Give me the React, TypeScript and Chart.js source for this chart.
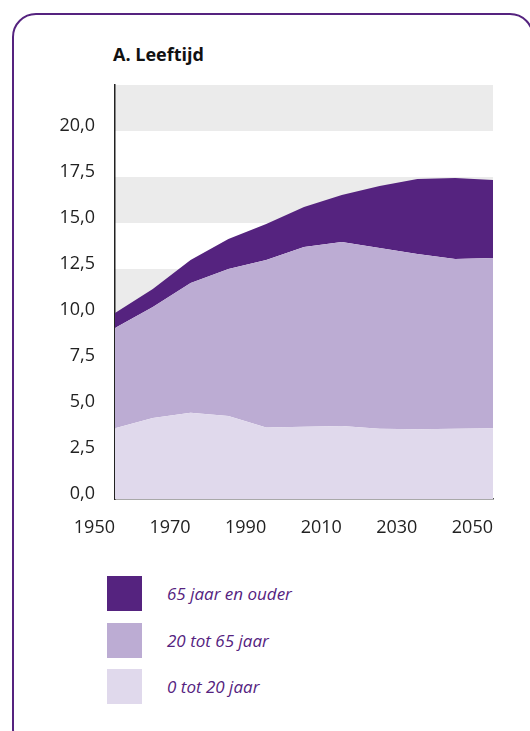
import React, { useEffect, useRef } from 'react';
import { Chart, registerables } from 'chart.js';

Chart.register(...registerables);

const years = [1950, 1960, 1970, 1980, 1990, 2000, 2010, 2020, 2030, 2040, 2050];
const age0to20 = [3.84, 4.4, 4.69, 4.51, 3.88, 3.93, 3.97, 3.82, 3.79, 3.82, 3.84];
const age20to65 = [5.45, 6.03, 7.05, 7.99, 9.11, 9.77, 10.0, 9.82, 9.53, 9.22, 9.26];
const age65plus = [0.82, 0.98, 1.25, 1.63, 1.96, 2.17, 2.55, 3.37, 4.07, 4.41, 4.24];
const seriesLabels = ['0 tot 20 jaar', '20 tot 65 jaar', '65 jaar en ouder'];
const seriesColors = ['#e0d9ec', '#bcacd3', '#55237f'];
const xTickValues = [1950, 1970, 1990, 2010, 2030, 2050];
const yTickValues = [0, 2.5, 5, 7.5, 10, 12.5, 15, 17.5, 20];
const grayBandStarts = [0, 5, 10, 15, 20];
const title = 'A. Leeftijd';

const FONT = '"Open Sans", "Noto Sans", sans-serif';
const PURPLE = '#55237f';

const bandsPlugin = {
  id: 'bands',
  beforeDraw(chart: any) {
    const { ctx, chartArea, scales } = chart;
    const y = scales.y;
    ctx.save();
    ctx.fillStyle = '#ebebeb';
    grayBandStarts.forEach((s) => {
      const top = y.getPixelForValue(s + 2.5);
      const bot = y.getPixelForValue(s);
      ctx.fillRect(chartArea.left, top, chartArea.right - chartArea.left, bot - top);
    });
    ctx.restore();
  },
};

export default function App() {
  const canvasRef = useRef<HTMLCanvasElement | null>(null);

  useEffect(() => {
    if (!canvasRef.current) return;
    const series = [age0to20, age20to65, age65plus];
    const chart = new Chart(canvasRef.current, {
      type: 'line',
      data: {
        datasets: series.map((vals, i) => ({
          label: seriesLabels[i],
          data: years.map((yr, j) => ({ x: yr, y: vals[j] })),
          backgroundColor: seriesColors[i],
          borderColor: seriesColors[i],
          borderWidth: 0,
          pointRadius: 0,
          tension: 0,
          fill: i === 0 ? 'origin' : '-1',
        })),
      },
      options: {
        animation: false,
        responsive: false,
        devicePixelRatio: 1,
        layout: { padding: { left: 0, right: 37, top: 85, bottom: 21 } },
        plugins: { legend: { display: false }, tooltip: { enabled: false } },
        scales: {
          x: {
            type: 'linear',
            min: 1950,
            max: 2050,
            afterBuildTicks: (scale: any) => {
              scale.ticks = xTickValues.map((v) => ({ value: v }));
            },
            afterFit: (scale: any) => {
              scale.height = 40;
            },
            grid: { display: false, drawTicks: false },
            border: { display: true, color: '#555', width: 1.5 },
            ticks: {
              align: 'end',
              padding: 18,
              maxRotation: 0,
              autoSkip: false,
              color: '#222',
              font: { family: FONT, size: 18 },
              callback: (v: any) => String(v),
            },
          },
          y: {
            type: 'linear',
            stacked: true,
            min: 0,
            max: 22.5,
            afterBuildTicks: (scale: any) => {
              scale.ticks = yTickValues.map((v) => ({ value: v }));
            },
            afterFit: (scale: any) => {
              scale.width = 115;
            },
            grid: { display: false, drawTicks: false },
            border: { display: true, color: '#222', width: 1.5 },
            ticks: {
              padding: 20,
              labelOffset: -5,
              color: '#222',
              font: { family: FONT, size: 18 },
              callback: (v: any) => Number(v).toFixed(1).replace('.', ','),
            },
          },
        },
      },
      plugins: [bandsPlugin],
    } as any);
    return () => chart.destroy();
  }, []);

  const legendOrder = [2, 1, 0];

  return (
    <div style={{ position: 'absolute', left: 0, top: 0, width: 530, height: 731, overflow: 'hidden', background: '#fff', fontFamily: FONT }}>
      <div
        style={{
          position: 'absolute',
          left: 12,
          top: 13,
          width: 522,
          height: 740,
          boxSizing: 'border-box',
          border: `2.5px solid ${PURPLE}`,
          borderRadius: 24,
        }}
      />
      <div style={{ position: 'absolute', left: 113, top: 42, fontSize: 18, fontWeight: 700, color: '#111', lineHeight: '24px' }}>
        {title}
      </div>
      <canvas ref={canvasRef} width={530} height={560} style={{ position: 'absolute', left: 0, top: 0 }} />
      {legendOrder.map((idx, k) => (
        <div key={idx} style={{ position: 'absolute', left: 107, top: 576 + k * 46.5, height: 35, display: 'flex', alignItems: 'center' }}>
          <div style={{ width: 35, height: 35, background: seriesColors[idx] }} />
          <div style={{ marginLeft: 25, fontStyle: 'italic', fontSize: 17, color: PURPLE }}>{seriesLabels[idx]}</div>
        </div>
      ))}
    </div>
  );
}
